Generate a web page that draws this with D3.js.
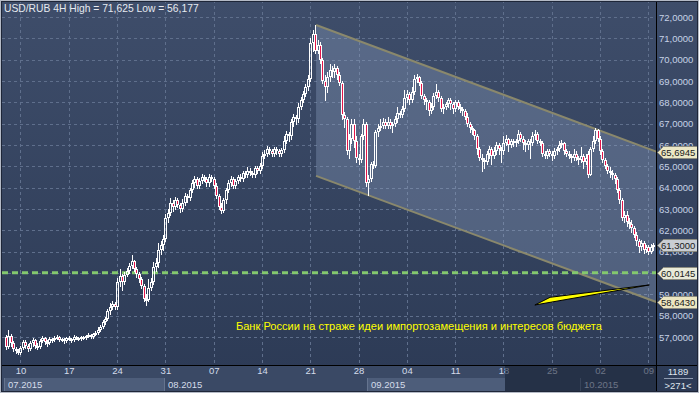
<!DOCTYPE html>
<html>
<head>
<meta charset="utf-8">
<script src="https://cdn.jsdelivr.net/npm/d3@7"></script>
<style>
  html, body { margin: 0; padding: 0; background: #33425e; }
  svg { display: block; font-family: "Liberation Sans", Arial, sans-serif; }
</style>
</head>
<body>
<svg id="chart" width="699" height="393"></svg>
<script>
// USD/RUB 4H bars (bar index 0 = left edge)
const opens = [
  57.00,56.55,57.05,56.70,56.45,56.35,56.25,56.50,56.75,56.60,
  56.45,56.70,56.85,56.60,56.55,56.80,56.95,56.75,56.70,56.90,
  56.85,56.95,57.00,56.85,56.90,56.80,56.95,56.90,56.85,57.00,
  56.95,56.90,57.00,56.95,57.05,57.10,57.00,57.15,57.20,57.35,
  57.45,57.70,57.85,58.20,58.40,58.55,58.40,59.60,59.85,59.60,
  59.90,60.10,60.35,60.55,60.20,59.95,59.70,59.40,58.80,58.75,
  59.30,59.60,60.30,60.45,61.10,61.30,61.60,62.60,62.80,63.30,
  63.10,63.40,63.20,63.00,63.30,63.60,63.50,63.90,64.20,64.40,
  64.10,64.30,64.50,64.40,64.20,64.50,64.40,64.10,63.60,63.10,
  62.90,63.40,63.90,64.20,64.40,64.10,64.30,64.50,64.40,64.70,
  64.60,64.80,64.70,64.60,64.90,64.80,65.00,65.50,65.60,65.80,
  65.70,65.60,65.80,65.70,65.60,65.75,66.20,66.50,66.40,67.10,
  67.30,67.20,67.80,68.10,68.40,68.70,69.10,70.80,71.20,70.40,
  70.70,70.00,69.00,68.70,69.20,69.50,69.40,69.60,69.30,68.90,
  67.40,67.20,65.70,66.30,67.00,66.20,65.40,65.30,66.40,67.00,
  64.20,64.40,65.10,65.00,66.60,66.80,66.90,67.10,66.90,67.10,
  66.90,67.00,67.20,67.50,67.40,67.70,68.20,68.40,68.10,68.50,
  69.10,69.20,68.90,68.30,68.10,68.00,67.60,67.80,68.30,68.50,
  68.20,67.70,67.80,67.90,68.10,67.90,67.70,68.00,67.80,67.70,
  67.60,67.30,67.00,66.80,66.70,66.40,65.80,65.40,65.30,65.20,
  65.60,65.80,65.50,65.70,66.00,65.80,65.70,66.10,66.30,66.00,
  66.20,66.10,66.20,66.50,66.30,66.10,66.00,66.20,66.10,66.40,
  66.50,66.20,66.10,65.60,65.50,65.70,65.60,65.50,65.70,65.80,
  66.00,66.10,65.70,65.60,65.50,65.40,65.60,65.40,65.30,65.50,
  65.20,65.60,64.60,65.80,66.20,66.70,66.30,65.70,65.30,65.00,
  64.80,64.70,64.60,64.40,63.90,63.40,62.60,62.70,62.40,62.30,
  62.10,61.80,61.50,61.20,61.40,61.10,61.20,61.00,61.20
];
const highs = [
  57.10,57.35,57.15,56.80,56.55,56.45,56.60,56.85,56.85,56.65,
  56.80,56.95,56.90,56.70,56.90,57.05,57.00,56.85,57.00,56.95,
  57.05,57.10,57.05,56.95,56.95,57.00,57.05,56.95,57.10,57.05,
  57.00,57.05,57.05,57.10,57.20,57.15,57.20,57.30,57.45,57.55,
  57.80,57.95,58.30,58.60,58.70,58.65,59.75,60.20,59.95,60.05,
  60.25,60.45,60.84,60.60,60.30,60.05,59.80,59.50,59.00,59.70,
  59.75,60.50,60.70,61.40,61.50,61.80,62.75,63.00,63.50,63.40,
  63.55,63.50,63.30,63.45,63.75,63.70,64.00,64.35,64.55,64.50,
  64.45,64.65,64.60,64.50,64.65,64.60,64.50,64.20,63.70,63.30,
  63.50,64.00,64.35,64.55,64.50,64.40,64.60,64.65,64.80,64.80,
  64.95,64.90,64.80,65.00,65.00,65.15,65.65,65.75,65.95,65.90,
  65.80,65.90,65.90,65.80,65.85,66.40,66.65,66.60,67.20,67.45,
  67.40,67.95,68.25,68.55,68.85,69.30,71.00,71.40,71.625,70.90,
  70.85,70.10,69.30,69.40,69.80,69.70,69.80,69.70,69.40,69.00,
  67.55,67.30,66.50,67.20,67.20,66.40,65.60,66.50,67.20,67.10,
  64.60,65.20,65.25,66.70,67.00,67.20,67.25,67.20,67.30,67.20,
  67.10,67.35,67.80,67.60,67.85,68.60,68.60,68.50,68.70,69.30,
  69.35,69.25,69.00,68.40,68.20,68.10,67.95,68.45,68.86,68.60,
  68.30,67.90,68.00,68.20,68.20,68.00,68.10,68.10,67.90,67.80,
  67.70,67.50,67.10,66.90,66.75,66.50,65.90,65.60,65.40,65.70,
  65.95,65.90,65.90,66.15,66.10,65.90,66.40,66.45,66.35,66.30,
  66.30,66.30,66.70,66.60,66.40,66.25,66.30,66.30,66.60,66.70,
  66.60,66.30,66.20,65.70,65.80,65.80,65.70,65.85,65.90,66.20,
  66.25,66.15,65.80,65.70,65.60,65.80,65.70,65.50,65.90,65.60,
  65.60,65.70,65.90,66.40,66.80,66.75,66.40,65.80,65.40,65.10,
  64.95,64.85,64.70,64.50,64.00,63.50,62.90,62.90,62.60,62.50,
  62.20,61.90,61.60,61.55,61.50,61.30,61.30,61.35,61.40
];
const lows = [
  56.45,56.50,56.60,56.35,56.25,56.18,56.20,56.45,56.50,56.35,
  56.40,56.60,56.50,56.45,56.50,56.75,56.65,56.60,56.65,56.75,
  56.80,56.90,56.80,56.80,56.70,56.75,56.85,56.75,56.80,56.90,
  56.85,56.85,56.90,56.90,57.00,56.95,56.95,57.10,57.15,57.30,
  57.40,57.60,57.80,58.10,58.30,58.30,58.30,59.40,59.20,59.50,
  59.85,60.00,60.25,60.10,59.80,59.60,59.30,58.70,58.50,58.70,
  59.20,59.50,60.10,60.30,60.90,61.10,61.50,62.40,62.70,62.90,
  63.00,63.10,62.85,62.90,63.20,63.35,63.40,63.80,64.05,64.00,
  64.00,64.20,64.30,64.10,64.10,64.30,64.00,63.50,63.00,62.80,
  62.85,63.30,63.80,64.10,64.00,64.00,64.20,64.30,64.30,64.50,
  64.50,64.60,64.50,64.50,64.70,64.70,64.90,65.40,65.50,65.60,
  65.50,65.50,65.60,65.50,65.50,65.65,66.10,66.20,66.30,66.90,
  67.00,67.10,67.70,68.00,68.30,68.60,69.00,70.40,70.30,70.30,
  69.85,68.90,68.10,68.50,69.00,69.20,69.20,69.10,68.80,67.20,
  66.85,65.60,65.40,66.10,65.90,65.20,65.10,65.20,66.30,64.10,
  63.65,64.30,64.90,64.95,66.40,66.70,66.80,66.80,66.80,66.80,
  66.60,66.90,67.10,67.30,67.30,67.60,68.00,67.90,68.00,68.40,
  68.95,68.80,68.20,67.90,67.70,67.40,67.50,67.70,68.20,68.05,
  67.60,67.50,67.70,67.80,67.70,67.50,67.60,67.70,67.55,67.40,
  67.20,66.90,66.60,66.50,66.30,65.60,65.30,64.80,64.90,65.10,
  65.40,65.10,65.40,65.60,65.60,65.20,65.60,66.00,65.70,65.90,
  65.95,65.95,66.10,66.20,65.80,65.70,65.80,65.40,66.00,66.30,
  66.10,66.00,65.50,65.40,65.40,65.50,65.30,65.40,65.60,65.70,
  65.90,65.60,65.50,65.40,65.20,65.30,65.30,65.10,65.20,64.90,
  65.10,64.50,64.60,65.70,66.10,66.20,65.60,65.20,64.90,64.70,
  64.50,64.40,64.20,63.80,63.30,62.50,62.40,62.20,62.10,61.90,
  61.70,61.30,61.00,61.10,60.95,61.00,60.90,60.95,61.10
];
const closes = [
  56.55,57.05,56.70,56.45,56.35,56.25,56.50,56.75,56.60,56.45,
  56.70,56.85,56.60,56.55,56.80,56.95,56.75,56.70,56.90,56.85,
  56.95,57.00,56.85,56.90,56.80,56.95,56.90,56.85,57.00,56.95,
  56.90,57.00,56.95,57.05,57.10,57.00,57.15,57.20,57.35,57.45,
  57.70,57.85,58.20,58.40,58.55,58.40,59.60,59.85,59.60,59.90,
  60.10,60.35,60.55,60.20,59.95,59.70,59.40,58.80,58.75,59.30,
  59.60,60.30,60.45,61.10,61.30,61.60,62.60,62.80,63.30,63.10,
  63.40,63.20,63.00,63.30,63.60,63.50,63.90,64.20,64.40,64.10,
  64.30,64.50,64.40,64.20,64.50,64.40,64.10,63.60,63.10,62.90,
  63.40,63.90,64.20,64.40,64.10,64.30,64.50,64.40,64.70,64.60,
  64.80,64.70,64.60,64.90,64.80,65.00,65.50,65.60,65.80,65.70,
  65.60,65.80,65.70,65.60,65.75,66.20,66.50,66.40,67.10,67.30,
  67.20,67.80,68.10,68.40,68.70,69.10,70.80,71.20,70.40,70.70,
  70.00,69.00,68.70,69.20,69.50,69.40,69.60,69.30,68.90,67.40,
  67.20,65.70,66.30,67.00,66.20,65.40,65.30,66.40,67.00,64.20,
  64.40,65.10,65.00,66.60,66.80,66.90,67.10,66.90,67.10,66.90,
  67.00,67.20,67.50,67.40,67.70,68.20,68.40,68.10,68.50,69.10,
  69.20,68.90,68.30,68.10,68.00,67.60,67.80,68.30,68.50,68.20,
  67.70,67.80,67.90,68.10,67.90,67.70,68.00,67.80,67.70,67.60,
  67.30,67.00,66.80,66.70,66.40,65.80,65.40,65.30,65.20,65.60,
  65.80,65.50,65.70,66.00,65.80,65.70,66.10,66.30,66.00,66.20,
  66.10,66.20,66.50,66.30,66.10,66.00,66.20,66.10,66.40,66.50,
  66.20,66.10,65.60,65.50,65.70,65.60,65.50,65.70,65.80,66.00,
  66.10,65.70,65.60,65.50,65.40,65.60,65.40,65.30,65.50,65.20,
  65.40,64.60,65.80,66.20,66.70,66.30,65.70,65.30,65.00,64.80,
  64.70,64.60,64.40,63.90,63.40,62.60,62.70,62.40,62.30,62.10,
  61.80,61.50,61.20,61.40,61.10,61.20,61.00,61.20,61.30
];

// axis labels
const tickBars = [6, 26, 46, 66, 86, 106, 126, 146, 166, 186, 206, 226, 246, 266];
const tickLabels = ["10","17","24","31","07","14","21","28","04","11","18","25","02","09"];
const monthStarts = [-0.8, 65.5, 149.5, 237.5];
const monthLabels = ["07.2015", "08.2015", "09.2015", "10.2015"];
const dimFrom = 206.6;   // shaded tail of the time scale
const priceTicks = d3.range(57, 73);

// objects drawn on the chart (bar index, price)
const channelUpper = [[128.4, 71.625], [269.2, 65.6945]];
const channelLower = [[128.4, 64.55], [269.2, 58.643]];
const supportLevel = 60.0145;
const lastPrice = 61.30;
const arrowPoints = [[219.0, 58.50], [225.3, 58.86], [266.4, 59.44]];
const noteText = "Банк России на страже идеи импортозамещения и интересов бюджета";
const notePos = [95.2, 57.52];
const title = "USD/RUB 4H High = 71,625 Low = 56,177";

const W = 699, H = 393;
const plotRight = 656, plotBottom = 365;
const x = d3.scaleLinear().domain([0, 268]).range([6, 653.2]);
const y = d3.scaleLinear().domain([57, 72]).range([337, 17]);
const fmtPrice = v => d3.format(".4f")(v).replace(".", ",");

const svg = d3.select("#chart");
const defs = svg.append("defs");
const grad = defs.append("linearGradient").attr("id", "bg")
  .attr("x1", 0).attr("y1", 0).attr("x2", 0).attr("y2", 1);
grad.append("stop").attr("offset", 0).attr("stop-color", "#3e4d6a");
grad.append("stop").attr("offset", 1).attr("stop-color", "#2c3a55");
defs.append("clipPath").attr("id", "plotClip")
  .append("rect").attr("x", 2).attr("y", 1).attr("width", plotRight - 2).attr("height", plotBottom - 1);

svg.append("rect").attr("width", W).attr("height", H).attr("fill", "url(#bg)");

const plot = svg.append("g").attr("clip-path", "url(#plotClip)");

// grid
plot.append("g").selectAll("line").data(priceTicks).join("line")
  .attr("x1", 2).attr("x2", plotRight)
  .attr("y1", d => Math.round(y(d)) + 0.5).attr("y2", d => Math.round(y(d)) + 0.5)
  .attr("stroke", "#5f6f8c").attr("stroke-dasharray", "3,3");
plot.append("g").selectAll("line").data(tickBars).join("line")
  .attr("x1", d => Math.round(x(d)) + 0.5).attr("x2", d => Math.round(x(d)) + 0.5)
  .attr("y1", 0).attr("y2", plotBottom)
  .attr("stroke", "#5f6f8c").attr("stroke-dasharray", "3,3");

// channel
const chan = [...channelUpper, ...channelLower.slice().reverse()];
plot.append("path")
  .attr("d", d3.line().x(d => x(d[0])).y(d => y(d[1]))(chan) + "Z")
  .attr("fill", "#9ab0d0").attr("fill-opacity", 0.3);
[channelUpper, channelLower].forEach(seg => {
  plot.append("path")
    .attr("d", d3.line().x(d => x(d[0])).y(d => y(d[1]))(seg))
    .attr("stroke", "#8a886c").attr("stroke-width", 2).attr("fill", "none");
});

// support level
plot.append("line")
  .attr("x1", 2).attr("x2", plotRight)
  .attr("y1", y(supportLevel)).attr("y2", y(supportLevel))
  .attr("stroke", "#84c86e").attr("stroke-width", 3).attr("stroke-dasharray", "6,4");

// candles
const bars = closes.map((c, i) => ({ i, o: opens[i], h: highs[i], l: lows[i], c }));
const cg = plot.append("g");
bars.forEach(d => {
  const cx = Math.round(x(d.i));
  const top = Math.round(y(Math.max(d.o, d.c)));
  let bot = Math.round(y(Math.min(d.o, d.c)));
  if (bot - top < 2) bot = top + 2;
  const yh = Math.round(y(d.h)), yl = Math.round(y(d.l));
  cg.append("path")
    .attr("d", `M${cx + 0.5},${yh}V${top}M${cx + 0.5},${bot}V${yl + 1}`)
    .attr("stroke", "#ffffff").attr("stroke-width", 1);
  cg.append("rect")
    .attr("x", cx - 0.5).attr("y", top + 0.5)
    .attr("width", 2).attr("height", bot - top - 1)
    .attr("fill", d.c < d.o ? "#e3154a" : "none")
    .attr("stroke", "#ffffff").attr("stroke-width", 1);
});

// arrow
plot.append("path")
  .attr("d", d3.line().x(d => x(d[0])).y(d => y(d[1]))(arrowPoints) + "Z")
  .attr("fill", "#ffff00").attr("stroke", "#000000").attr("stroke-width", 1);

// note
svg.append("text")
  .attr("x", x(notePos[0])).attr("y", y(notePos[1]))
  .attr("dy", "0.35em")
  .attr("fill", "#ffff00").attr("font-size", "11.1px")
  .text(noteText);

// title
svg.append("text").attr("x", 4).attr("y", 12)
  .attr("fill", "#e6eaf0").attr("font-size", "10.3px").text(title);

// bottom axis strip
svg.append("rect").attr("x", 0).attr("y", plotBottom).attr("width", plotRight).attr("height", H - plotBottom)
  .attr("fill", "#3a4965");
const boxEnds = [monthStarts[1], monthStarts[2], dimFrom, 268];
monthStarts.forEach((m, k) => {
  if (k === 0 || k === 2) {
    svg.append("rect")
      .attr("x", Math.round(x(m))).attr("y", 378)
      .attr("width", Math.round(x(boxEnds[k])) - Math.round(x(m))).attr("height", 14)
      .attr("fill", "#4d5d7a");
  }
  svg.append("line")
    .attr("x1", Math.round(x(m)) + 0.5).attr("x2", Math.round(x(m)) + 0.5)
    .attr("y1", 378).attr("y2", 392).attr("stroke", "#65748f");
});

const xAxis = svg.append("g").attr("transform", `translate(0,367)`)
  .call(d3.axisBottom(x).tickValues(tickBars).tickFormat((d, i) => tickLabels[i]).tickSize(0).tickPadding(0));
xAxis.select(".domain").remove();
xAxis.selectAll("text").attr("fill", "#d4dcea").attr("font-size", "9.5px")
  .attr("font-family", "Liberation Sans, Arial, sans-serif");

svg.append("g").selectAll("text").data(monthLabels).join("text")
  .attr("x", (d, i) => Math.round(x(monthStarts[i])) + 4).attr("y", 385)
  .attr("dy", "0.35em")
  .attr("fill", "#d4dcea").attr("font-size", "9.5px").text(d => d);

// dimmed region at the right end of the time scale
const dimX = Math.round(x(dimFrom));
svg.append("rect").attr("x", dimX).attr("y", plotBottom + 1).attr("width", plotRight - dimX).attr("height", H - plotBottom - 2)
  .attr("fill", "#141d30").attr("fill-opacity", 0.55);

// price axis
const yAxis = svg.append("g").attr("transform", `translate(${plotRight},0)`)
  .call(d3.axisRight(y).tickValues(priceTicks).tickFormat(fmtPrice).tickSize(0).tickPadding(3));
yAxis.select(".domain").remove();
yAxis.selectAll("text").attr("fill", "#c6d2e6").attr("font-size", "9.5px")
  .attr("font-family", "Liberation Sans, Arial, sans-serif");

// price tags (drawn over the axis labels, as in the terminal)
const tags = [
  { v: channelUpper[1][1], fill: "#ece8c6" },
  { v: lastPrice, fill: "#c9cdd3" },
  { v: supportLevel, fill: "#e9ead8" },
  { v: channelLower[1][1], fill: "#ece6c2" },
];
const tg = svg.append("g");
tags.forEach(t => {
  const ty = Math.round(y(t.v)) + 0.5;
  tg.append("path")
    .attr("d", `M657.5,${ty}L663.5,${ty - 6}H697.5V${ty + 6}H663.5Z`)
    .attr("fill", t.fill).attr("stroke", "#8c8c80").attr("stroke-width", 1);
  tg.append("text").attr("x", 661).attr("y", ty).attr("dy", "0.35em")
    .attr("fill", "#1a1a1a").attr("font-size", "9.5px").text(fmtPrice(t.v));
});

// bar count box
svg.append("text").attr("x", 678).attr("y", 372).attr("dy", "0.35em").attr("text-anchor", "middle")
  .attr("fill", "#dfe5ee").attr("font-size", "9.5px").text("1189");
svg.append("line").attr("x1", 664).attr("x2", 693).attr("y1", 378.5).attr("y2", 378.5).attr("stroke", "#8e9ab0");
svg.append("text").attr("x", 678).attr("y", 386).attr("dy", "0.35em").attr("text-anchor", "middle")
  .attr("fill", "#dfe5ee").attr("font-size", "9.5px").text(">271<");

// frame lines
svg.append("line").attr("x1", 0).attr("x2", W).attr("y1", plotBottom + 0.5).attr("y2", plotBottom + 0.5).attr("stroke", "#000");
svg.append("line").attr("x1", plotRight + 0.5).attr("x2", plotRight + 0.5).attr("y1", 0).attr("y2", H).attr("stroke", "#000");
svg.append("rect").attr("x", 0.5).attr("y", 0.5).attr("width", W - 1).attr("height", H - 1)
  .attr("fill", "none").attr("stroke", "#b4bac6");
svg.append("rect").attr("x", 1.5).attr("y", 1.5).attr("width", W - 3).attr("height", H - 3)
  .attr("fill", "none").attr("stroke", "#1e2638");
</script>
</body>
</html>
